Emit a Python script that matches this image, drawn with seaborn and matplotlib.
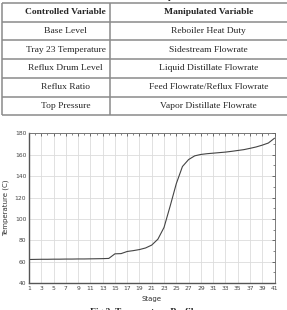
import pandas as pd
import matplotlib
matplotlib.use("Agg")
import matplotlib.pyplot as plt
from matplotlib.ticker import MultipleLocator, FixedLocator
import seaborn as sns

# -- Data ------------------------------------------------------------------
controlled = ["Base Level", "Tray 23 Temperature", "Reflux Drum Level",
              "Reflux Ratio", "Top Pressure"]
manipulated = ["Reboiler Heat Duty", "Sidestream Flowrate",
               "Liquid Distillate Flowrate", "Feed Flowrate/Reflux Flowrate",
               "Vapor Distillate Flowrate"]

stages = list(range(1, 42))
stage_ticks = list(range(1, 42, 2))
temperature = [62.0, 62.1, 62.2, 62.2, 62.3, 62.3, 62.4, 62.4, 62.5, 62.5,
               62.6, 62.7, 62.8, 63.0, 67.3, 67.5, 69.5, 70.3, 71.3, 72.8,
               75.5, 81.0, 92.0, 112.0, 133.0, 149.0, 155.5, 159.0, 160.3, 161.0,
               161.5, 162.0, 162.5, 163.2, 164.0, 164.8, 166.0, 167.3, 169.0, 171.0,
               175.5]
profile = pd.DataFrame({"Stage": stages, "Temperature": temperature})

# -- Figure ----------------------------------------------------------------
sns.set_style("white")
W, H = 287, 310
fig = plt.figure(figsize=(W / 100, H / 100), dpi=100)

# full-figure overlay in pixel coordinates for the table and captions
page = fig.add_axes([0, 0, 1, 1])
page.set_xlim(0, W)
page.set_ylim(H, 0)
page.axis("off")

serif = ["Liberation Serif", "DejaVu Serif"]
line_kw = dict(color="#8a8a8a", lw=1.1, solid_capstyle="butt")

row_edges = [3, 21.5, 40, 59, 77.5, 96.5, 115]
for y in row_edges:
    page.plot([1.5, W], [y, y], **line_kw)
for x in [1.5, 109.5]:
    page.plot([x, x], [row_edges[0], row_edges[-1]], **line_kw)

col_x = [65.7, 208.7]
page.text(col_x[0], 12, "Controlled Variable", ha="center", va="center",
          fontsize=6.8, fontweight="bold", family=serif)
page.text(col_x[1], 12, "Manipulated Variable", ha="center", va="center",
          fontsize=6.8, fontweight="bold", family=serif)
for i, (c, m) in enumerate(zip(controlled, manipulated)):
    y = (row_edges[i + 1] + row_edges[i + 2]) / 2
    page.text(col_x[0], y, c, ha="center", va="center", fontsize=6.8,
              family=serif)
    page.text(col_x[1], y, m, ha="center", va="center", fontsize=6.8,
              family=serif)

# captions, cut by the page edge like in the source
page.text(W / 2, -3, "Table 1. Controlled and Manipulated Variables",
          ha="center", va="center", fontsize=6.8, fontweight="bold",
          family=serif)
page.text(W / 2, 311.5, "Fig 3. Temperature Profile", ha="center",
          va="center", fontsize=6.8, fontweight="bold", family=serif)

# -- Temperature profile ---------------------------------------------------
ax = fig.add_axes([29 / W, 1 - 283 / H, 245.5 / W, 149.6 / H])
sns.lineplot(data=profile, x="Stage", y="Temperature", color="#444444",
             lw=0.8, ax=ax)
ax.set_xlim(1, 41)
ax.set_ylim(40, 180)
ax.xaxis.set_major_locator(FixedLocator(stage_ticks))
ax.xaxis.set_minor_locator(MultipleLocator(1))
ax.yaxis.set_major_locator(MultipleLocator(20))
ax.yaxis.set_minor_locator(MultipleLocator(10))
ax.grid(True, which="major", color="#dcdcdc", lw=0.6)
ax.tick_params(which="both", direction="in", top=True, right=True,
               colors="#555555", labelcolor="#444444", labelsize=4.3, pad=2)
ax.tick_params(which="major", length=2.5, width=0.6)
ax.tick_params(which="minor", length=1.5, width=0.5)
for side in ["top", "right"]:
    ax.spines[side].set_color("#666666")
    ax.spines[side].set_linewidth(0.6)
for side in ["left", "bottom"]:
    ax.spines[side].set_color("#555555")
    ax.spines[side].set_linewidth(1.0)
ax.set_xlabel("Stage", fontsize=5, color="#333333", labelpad=4)
ax.set_ylabel("Temperature (C)", fontsize=5, color="#333333", labelpad=4)

fig.savefig("out.png", dpi=100)
